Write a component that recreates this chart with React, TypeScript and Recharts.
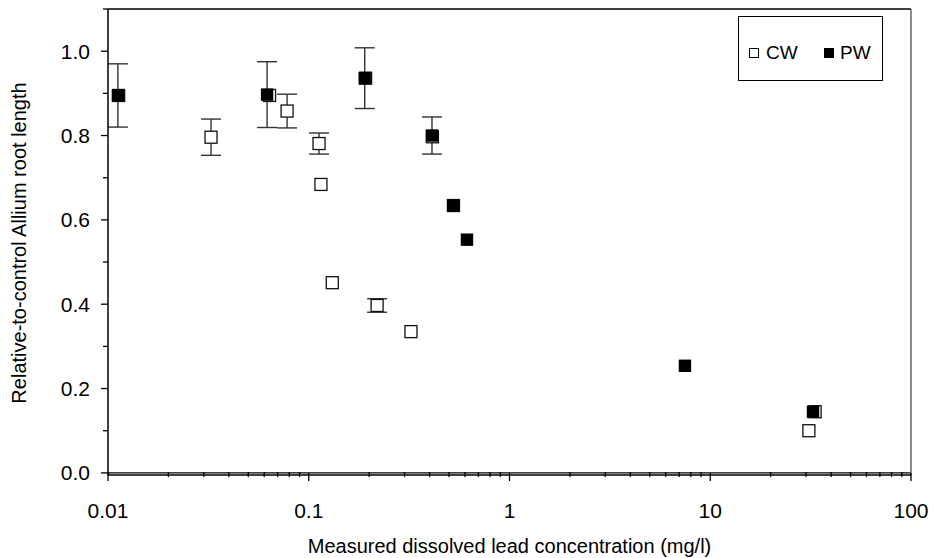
import React from 'react';
import {
  ScatterChart,
  Scatter,
  XAxis,
  YAxis,
  ErrorBar,
  ReferenceLine,
  Legend,
} from 'recharts';

// measured dissolved lead (mg/l) vs relative-to-control root length
const cwConc = [0.0113, 0.0326, 0.0638, 0.078, 0.1125, 0.115, 0.131, 0.192, 0.219, 0.323, 0.413, 0.526, 31.0, 33.3];
const cwRatio = [0.895, 0.796, 0.895, 0.858, 0.781, 0.684, 0.451, 0.936, 0.397, 0.335, 0.797, 0.634, 0.1, 0.145];
const cwErr = [0, 0.043, 0, 0.04, 0.025, 0, 0, 0, 0.016, 0, 0, 0, 0, 0];

const pwConc = [0.0112, 0.062, 0.19, 0.411, 0.524, 0.614, 7.48, 32.5];
const pwRatio = [0.895, 0.897, 0.936, 0.8, 0.634, 0.553, 0.254, 0.145];
const pwErr = [0.075, 0.078, 0.072, 0.044, 0, 0, 0, 0];

const xTicks = [
  0.01, 0.02, 0.03, 0.04, 0.05, 0.06, 0.07, 0.08, 0.09,
  0.1, 0.2, 0.3, 0.4, 0.5, 0.6, 0.7, 0.8, 0.9,
  1, 2, 3, 4, 5, 6, 7, 8, 9,
  10, 20, 30, 40, 50, 60, 70, 80, 90,
  100,
];
const xMajor = [0.01, 0.1, 1, 10, 100];
const yTicks = [0, 0.1, 0.2, 0.3, 0.4, 0.5, 0.6, 0.7, 0.8, 0.9, 1.0, 1.1];
const yLabelled = [0, 0.2, 0.4, 0.6, 0.8, 1.0];

const FONT = '"Liberation Sans", Arial, sans-serif';

const cwData = cwConc.map((x, i) => ({ x, y: cwRatio[i], err: cwErr[i] }));
const pwData = pwConc.map((x, i) => ({ x, y: pwRatio[i], err: pwErr[i] }));

const XTick = ({ x, y, payload }: any) => {
  const major = xMajor.includes(payload.value);
  return (
    <g>
      <line x1={x} x2={x} y1={major ? y - 2 : y - 3} y2={major ? y + 6 : y + 2} stroke="#000" strokeWidth={1.3} />
      {major && (
        <text x={x} y={y + 43} textAnchor="middle" fontSize={21} fontFamily={FONT} fill="#000">
          {payload.value}
        </text>
      )}
    </g>
  );
};

const YTick = ({ x, y, payload }: any) => {
  const major = yLabelled.some((v) => Math.abs(v - payload.value) < 1e-6);
  return (
    <g>
      <line x1={major ? x - 7 : x - 5} x2={x} y1={y} y2={y} stroke="#000" strokeWidth={1.3} />
      {major && (
        <text x={x - 18} y={y} dy="0.36em" textAnchor="end" fontSize={21} fontFamily={FONT} fill="#000">
          {payload.value.toFixed(1)}
        </text>
      )}
    </g>
  );
};

const YTitle = () => (
  <text
    x={19}
    y={243}
    transform="rotate(-90 19 243)"
    textAnchor="middle"
    dominantBaseline="central"
    fontSize={20}
    fontFamily={FONT}
    fill="#000"
  >
    Relative-to-control Allium root length
  </text>
);

const hollowSquare = (p: any) => (
  <rect x={p.cx - 6} y={p.cy - 6} width={12} height={12} fill="#fff" stroke="#111" strokeWidth={1.3} />
);

const filledSquare = (p: any) => (
  <rect x={p.cx - 6.2} y={p.cy - 6.2} width={12.4} height={12.4} fill="#000" />
);

const LegendBox = () => (
  <div
    style={{
      position: 'relative',
      width: 145,
      height: 65,
      border: '1px solid #000',
      boxSizing: 'border-box',
      fontFamily: FONT,
      fontSize: 19,
      background: '#fff',
    }}
  >
    <div style={{ position: 'absolute', left: 10, top: 31, width: 10, height: 10, border: '1px solid #000', boxSizing: 'border-box' }} />
    <span style={{ position: 'absolute', left: 27, top: 25, lineHeight: '22px' }}>CW</span>
    <div style={{ position: 'absolute', left: 85, top: 31, width: 10, height: 10, background: '#000' }} />
    <span style={{ position: 'absolute', left: 101, top: 25, lineHeight: '22px' }}>PW</span>
  </div>
);

export default function App() {
  return (
    <div style={{ position: 'absolute', left: 0, top: 0, width: 935, height: 558, background: '#fff' }}>
      <ScatterChart width={935} height={558} margin={{ top: 9, right: 24, bottom: 0, left: 0 }}>
        <XAxis
          dataKey="x"
          type="number"
          scale="log"
          domain={[0.01, 100]}
          ticks={xTicks}
          interval={0}
          allowDataOverflow
          height={83}
          tickSize={0}
          tickMargin={0}
          tickLine={false}
          tick={<XTick />}
          axisLine={{ stroke: '#000', strokeWidth: 1.5 }}
          label={{
            value: 'Measured dissolved lead concentration (mg/l)',
            position: 'insideBottom',
            offset: 5,
            fontSize: 20,
            fontFamily: FONT,
            fill: '#000',
          }}
        />
        <YAxis
          dataKey="y"
          type="number"
          domain={[-0.005, 1.1]}
          ticks={yTicks}
          interval={0}
          allowDataOverflow
          width={108}
          tickSize={0}
          tickMargin={0}
          tickLine={false}
          tick={<YTick />}
          axisLine={{ stroke: '#000', strokeWidth: 1.5 }}
          label={<YTitle />}
        />
        <ReferenceLine y={0} stroke="#000" strokeWidth={1.3} />
        <ReferenceLine y={1.1} stroke="#000" strokeWidth={1.5} />
        <ReferenceLine x={100} stroke="#666" strokeWidth={1.5} />
        <Legend
          layout="horizontal"
          verticalAlign="middle"
          align="center"
          content={<LegendBox />}
          wrapperStyle={{ left: 738, top: 16, width: 145, height: 65 }}
        />
        <Scatter name="CW" data={cwData} shape={hollowSquare} isAnimationActive={false}>
          <ErrorBar dataKey="err" direction="y" width={10} stroke="#333" strokeWidth={1.4} />
        </Scatter>
        <Scatter name="PW" data={pwData} shape={filledSquare} isAnimationActive={false}>
          <ErrorBar dataKey="err" direction="y" width={10} stroke="#333" strokeWidth={1.4} />
        </Scatter>
      </ScatterChart>
    </div>
  );
}
